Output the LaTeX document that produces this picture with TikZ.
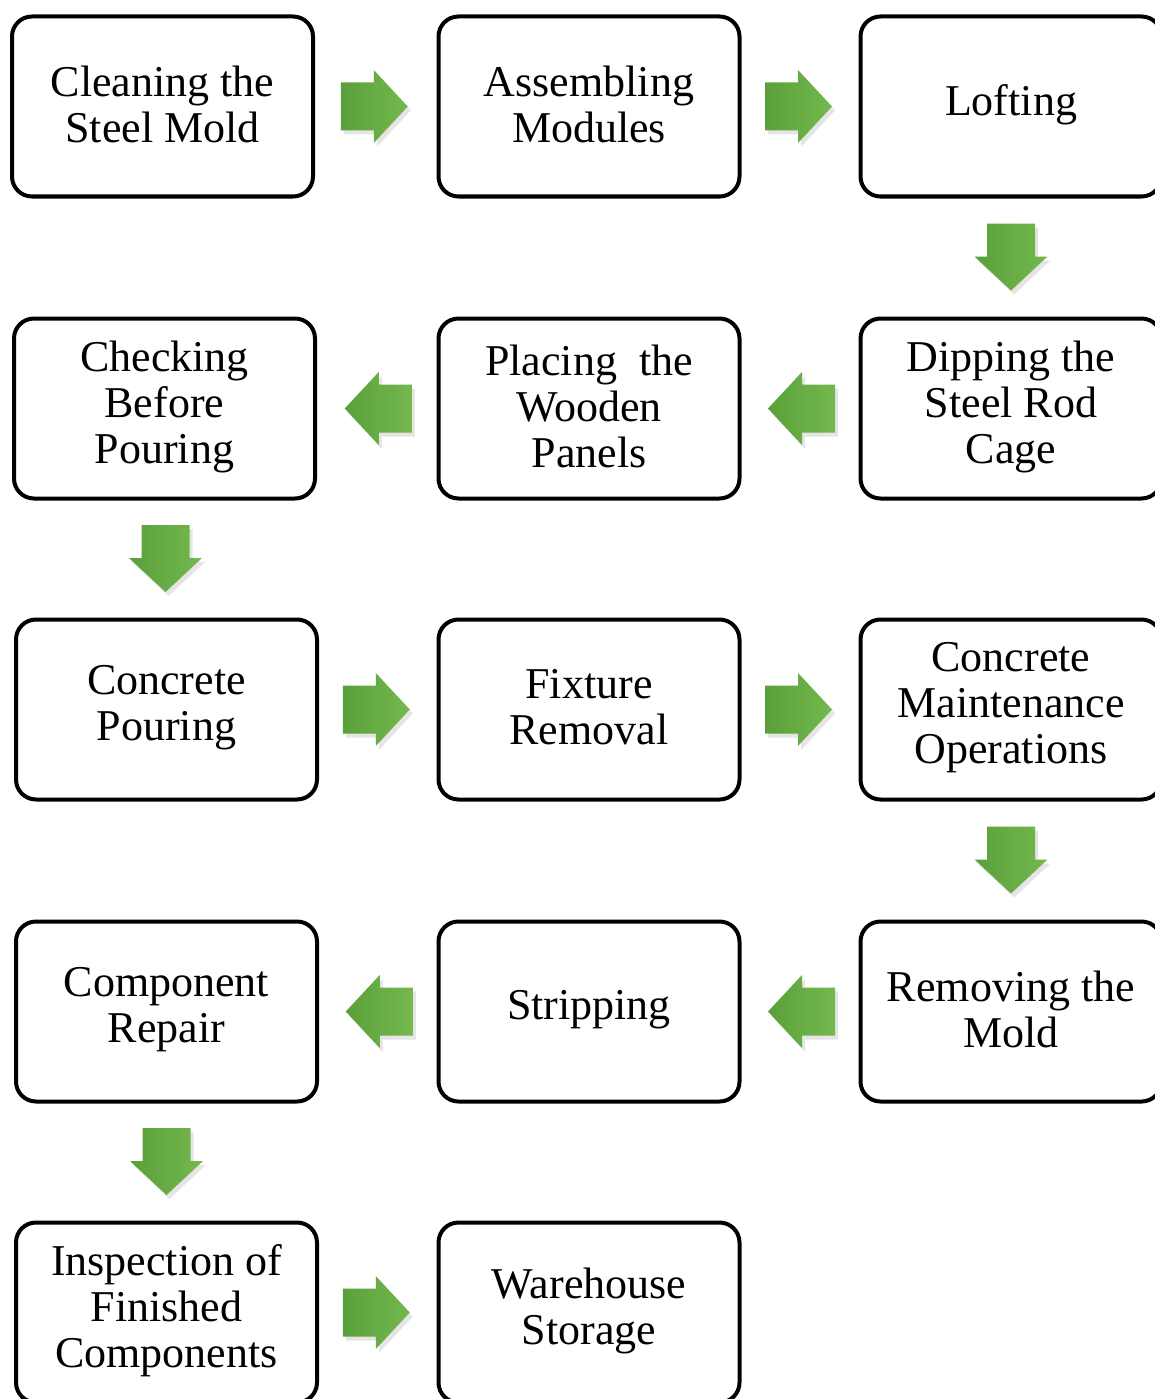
\documentclass[tikz,border=0pt]{standalone}
\usepackage{fontspec}
\setmainfont{Liberation Serif}
\usetikzlibrary{calc,shadows}
\newcommand{\stepnode}[3]{%
  \node[stepbox] (#1) at #2 {};
  \node[steptext] at ($(#1.center)+(0,-2)$) {#3};}
\begin{document}
\begin{tikzpicture}[x=1pt,y=-1pt,
  stepbox/.style={draw=black,line width=4pt,rounded corners=20pt,fill=white,
    minimum width=301pt,minimum height=180pt,inner sep=0pt},
  steptext/.style={align=center,inner sep=0pt,font=\fontsize{44}{46}\selectfont},
  arrowfill/.style={left color={rgb,255:red,90;green,160;blue,58},right color={rgb,255:red,116;green,184;blue,78},
    drop shadow={shadow xshift=3pt,shadow yshift=-4pt,opacity=0.2,fill=black!50}},
  garr/.pic={\path[arrowfill] (-33,-24) -- (0,-24) -- (0,-36.5) -- (34,0) -- (0,36.5) -- (0,24) -- (-33,24) -- cycle;}
]
\useasboundingbox (0,0) rectangle (1155,1399);
\clip (0,0) rectangle (1155,1399);
\fill[white] (0,0) rectangle (1155,1399);
% boxes
\stepnode{b1}{(162.5,106.5)}{Cleaning the\\Steel Mold}
\stepnode{b2}{(589,106.5)}{Assembling\\Modules}
\stepnode{b3}{(1011,106.5)}{Lofting}
\stepnode{b4}{(1011,408.5)}{Dipping the\\Steel Rod\\Cage}
\stepnode{b5}{(589,408.5)}{Placing~~the\\Wooden\\Panels}
\stepnode{b6}{(164.5,408.5)}{Checking\\Before\\Pouring}
\stepnode{b7}{(166.5,709.5)}{Concrete\\Pouring}
\stepnode{b8}{(589,709.5)}{Fixture\\Removal}
\stepnode{b9}{(1011,709.5)}{Concrete\\Maintenance\\Operations}
\stepnode{b10}{(1011,1011.5)}{Removing the\\Mold}
\stepnode{b11}{(589,1011.5)}{Stripping}
\stepnode{b12}{(166.5,1011.5)}{Component\\Repair}
\stepnode{b13}{(166.5,1312.5)}{Inspection of\\Finished\\Components}
\stepnode{b14}{(589,1312.5)}{Warehouse\\Storage}
% arrows
\path ($(b1.east)!0.5!(b2.west)+(-2,0)$) pic {garr};
\path ($(b2.east)!0.5!(b3.west)+(-2,0)$) pic {garr};
\path ($(b3.south)!0.5!(b4.north)+(0,-1)$) pic[rotate=-90] {garr};
\path ($(b4.west)!0.5!(b5.east)+(2,0)$) pic[rotate=180] {garr};
\path ($(b5.west)!0.5!(b6.east)+(2,0)$) pic[rotate=180] {garr};
\path ($(b6.south)!0.5!(b7.north)+(0,-1)$) pic[rotate=-90] {garr};
\path ($(b7.east)!0.5!(b8.west)+(-2,0)$) pic {garr};
\path ($(b8.east)!0.5!(b9.west)+(-2,0)$) pic {garr};
\path ($(b9.south)!0.5!(b10.north)+(0,-1)$) pic[rotate=-90] {garr};
\path ($(b10.west)!0.5!(b11.east)+(2,0)$) pic[rotate=180] {garr};
\path ($(b11.west)!0.5!(b12.east)+(2,0)$) pic[rotate=180] {garr};
\path ($(b12.south)!0.5!(b13.north)+(0,-1)$) pic[rotate=-90] {garr};
\path ($(b13.east)!0.5!(b14.west)+(-2,0)$) pic {garr};
\end{tikzpicture}
\end{document}
